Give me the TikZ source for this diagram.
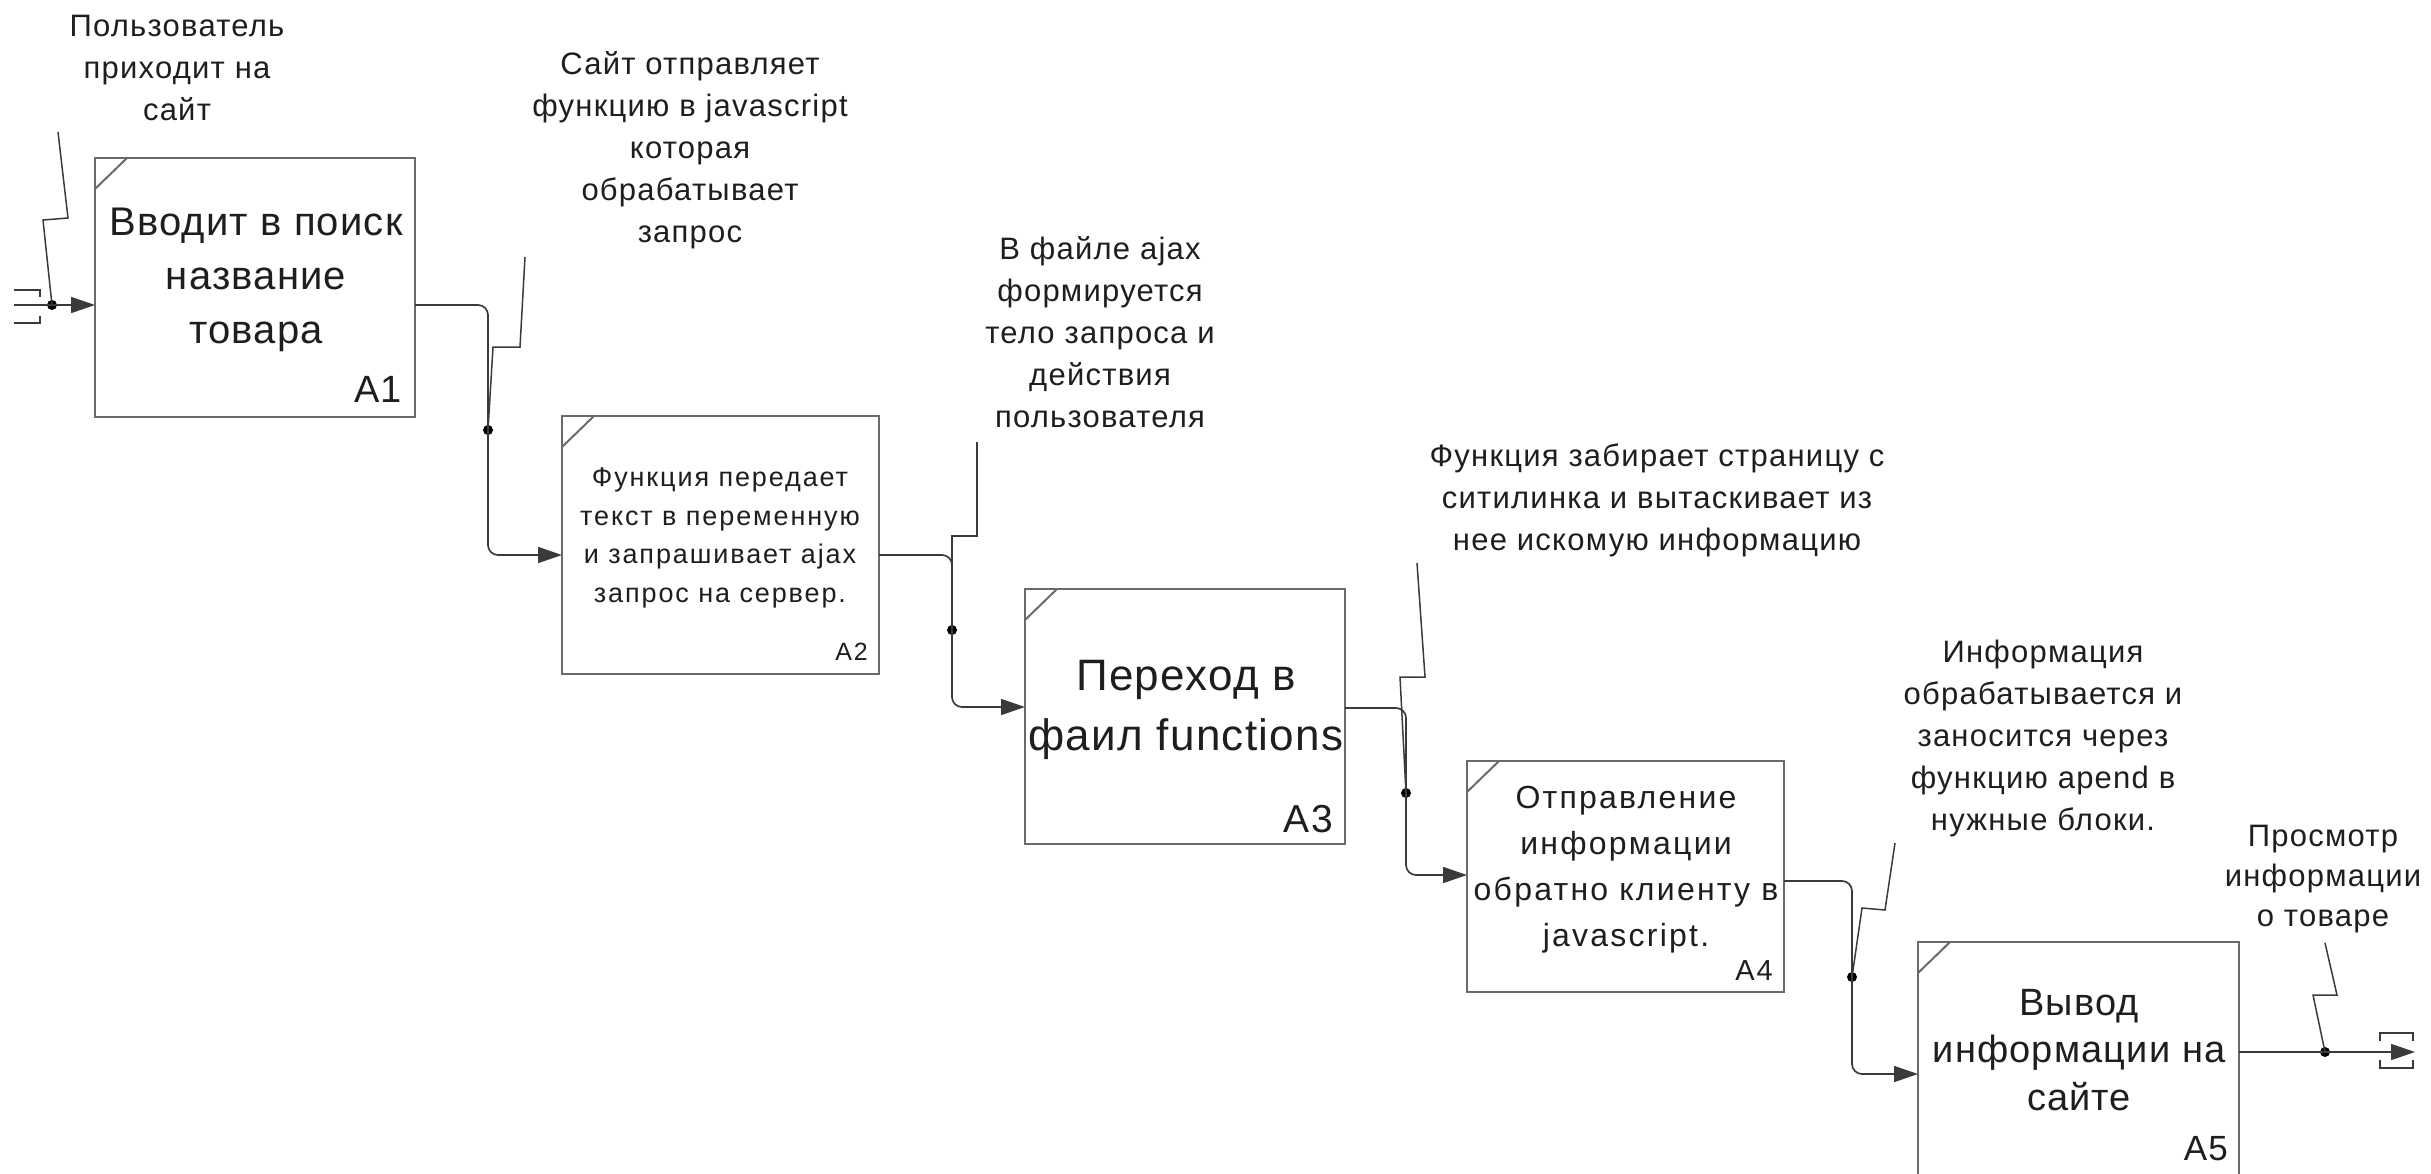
\documentclass[tikz,border=0pt]{standalone}
\usepackage{fontspec}
\setmainfont{Liberation Sans}
\newfontfamily\lblfont[LetterSpace=4]{Liberation Sans}
\newfontfamily\boxfontA[LetterSpace=3]{Liberation Sans}
\newfontfamily\boxfontB[LetterSpace=7]{Liberation Sans}
\usetikzlibrary{arrows.meta}
\definecolor{ink}{HTML}{1E1E1E}
\definecolor{frame}{HTML}{6A6A6A}
\definecolor{wire}{HTML}{3A3A3A}
\begin{document}
\begin{tikzpicture}[x=1pt,y=-1pt,
  box/.style={draw=frame,line width=2.2pt,rectangle,anchor=north west,inner sep=0pt,outer sep=0pt},
  corner/.style={draw=frame,line width=2pt},
  wire/.style={draw=wire,line width=1.7pt,rounded corners=10pt},
  arr/.style={wire,-{Triangle[length=24pt,width=16pt]}},
  sq/.style={draw=wire,line width=1.5pt},
  dot/.style={circle,fill=black,inner sep=0pt,minimum size=10pt},
  lbl/.style={text=ink,align=center,anchor=base,inner sep=0pt,font=\lblfont\fontsize{31}{42}\selectfont},
  btxt/.style={text=ink,align=center,anchor=base,inner sep=0pt},
  bid/.style={text=ink,anchor=base east,inner sep=0pt}
]
\useasboundingbox (0,0) rectangle (2431,1173);

% boxes
\node[box,minimum width=320pt,minimum height=259pt] (b1) at (95,158) {};
\node[box,minimum width=317pt,minimum height=258pt] (b2) at (562,416) {};
\node[box,minimum width=320pt,minimum height=255pt] (b3) at (1025,589) {};
\node[box,minimum width=317pt,minimum height=231pt] (b4) at (1467,761) {};
\node[box,minimum width=321pt,minimum height=270pt] (b5) at (1918,942) {};
\foreach \b in {b1,b2,b3,b4,b5}
  \draw[corner] ([yshift=-31pt]\b.north west) -- ([xshift=32pt]\b.north west);

% box texts (anchored at the baseline of the last line)
\node[btxt,font=\boxfontA\fontsize{40}{54}\selectfont] (t1) at (256,343) {Вводит в поиск\\название\\товара};
\node[bid,font=\boxfontA\fontsize{38}{40}\selectfont] (n1) at (402,402) {A1};
\node[btxt,font=\boxfontB\fontsize{27}{38.5}\selectfont] (t2) at (720,602) {Функция передает\\текст в переменную\\и запрашивает ajax\\запрос на сервер.};
\node[bid,font=\boxfontB\fontsize{25}{30}\selectfont] (n2) at (868,660) {A2};
\node[btxt,font=\boxfontA\fontsize{44}{60}\selectfont] (t3) at (1186,750) {Переход в\\фаил functions};
\node[bid,font=\boxfontA\fontsize{39}{42}\selectfont] (n3) at (1333,832) {A3};
\node[btxt,font=\boxfontB\fontsize{32}{46}\selectfont] (t4) at (1626,946) {Отправление\\информации\\обратно клиенту в\\javascript.};
\node[bid,font=\boxfontB\fontsize{29}{32}\selectfont] (n4) at (1773,980) {A4};
\node[btxt,font=\boxfontA\fontsize{38}{47.5}\selectfont] (t5) at (2079,1110) {Вывод\\информации на\\сайте};
\node[bid,font=\boxfontA\fontsize{35}{38}\selectfont] (n5) at (2228,1160) {A5};

% arrow labels (anchored at the baseline of the last line)
\node[lbl] (l1) at (177,120) {Пользователь\\приходит на\\сайт};
\node[lbl] (l2) at (690,242) {Сайт отправляет\\функцию в javascript\\которая\\обрабатывает\\запрос};
\node[lbl] (l3) at (1100,427) {В файле ajax\\формируется\\тело запроса и\\действия\\пользователя};
\node[lbl] (l4) at (1657,550) {Функция забирает страницу с\\ситилинка и вытаскивает из\\нее искомую информацию};
\node[lbl] (l5) at (2043,830) {Информация\\обрабатывается и\\заносится через\\функцию apend в\\нужные блоки.};
\node[lbl,font=\lblfont\fontsize{31}{40}\selectfont] (l6) at (2323,926) {Просмотр\\информации\\о товаре};

% junction dots
\node[dot] (d0) at (52,305) {};
\node[dot] (d1) at (488,430) {};
\node[dot] (d2) at (952,630) {};
\node[dot] (d3) at (1406,793) {};
\node[dot] (d4) at (1852,977) {};
\node[dot] (d5) at (2325,1052) {};

% free ends
\coordinate (tin) at (14,305);
\coordinate (tout) at (2415,1052);
\coordinate (s0) at (58,132);
\coordinate (s1) at (525,257);
\coordinate (s2) at (977,442);
\coordinate (s3) at (1417,563);
\coordinate (s4) at (1895,843);
\coordinate (s5) at (2325,943);

% connectors
\draw[arr] (tin) -- (tin -| b1.west);
\draw[arr] (b1.east |- d0) -- (d1 |- d0) -- (d1.center) -- (d1 |- 0,555) -- (b2.west |- 0,555);
\draw[arr] (b2.east |- 0,555) -- (d2 |- 0,555) -- (d2 |- 0,707) -- (b3.west |- 0,707);
\draw[arr] (b3.east |- 0,708) -- (d3 |- 0,708) -- (d3 |- 0,875) -- (b4.west |- 0,875);
\draw[arr] (b4.east |- 0,881) -- (d4 |- 0,881) -- (d4 |- 0,1074) -- (b5.west |- 0,1074);
\draw[arr] (b5.east |- d5) -- (tout);

% label squiggles
\draw[sq] (s0) -- (68,218) -- (43,220) -- (d0.center);
\draw[sq] (s1) -- (520,347) -- (493,347) -- (d1.center);
\draw[sq] (s2) -- (977,536) -- (952,536) -- (d2.center);
\draw[sq] (s3) -- (1425,677) -- (1400,677) -- (d3.center);
\draw[sq] (s4) -- (1885,910) -- (1862,908) -- (d4.center);
\draw[sq] (s5) -- (2337,995) -- (2313,995) -- (d5.center);

% tunnel brackets
\draw[sq] (14,290) -- (40,290) -- (40,297);
\draw[sq] (14,323) -- (40,323) -- (40,316);
\draw[sq] (2380,1041) -- (2380,1033) -- (2413,1033) -- (2413,1041);
\draw[sq] (2380,1060) -- (2380,1068) -- (2413,1068) -- (2413,1060);
\end{tikzpicture}
\end{document}
